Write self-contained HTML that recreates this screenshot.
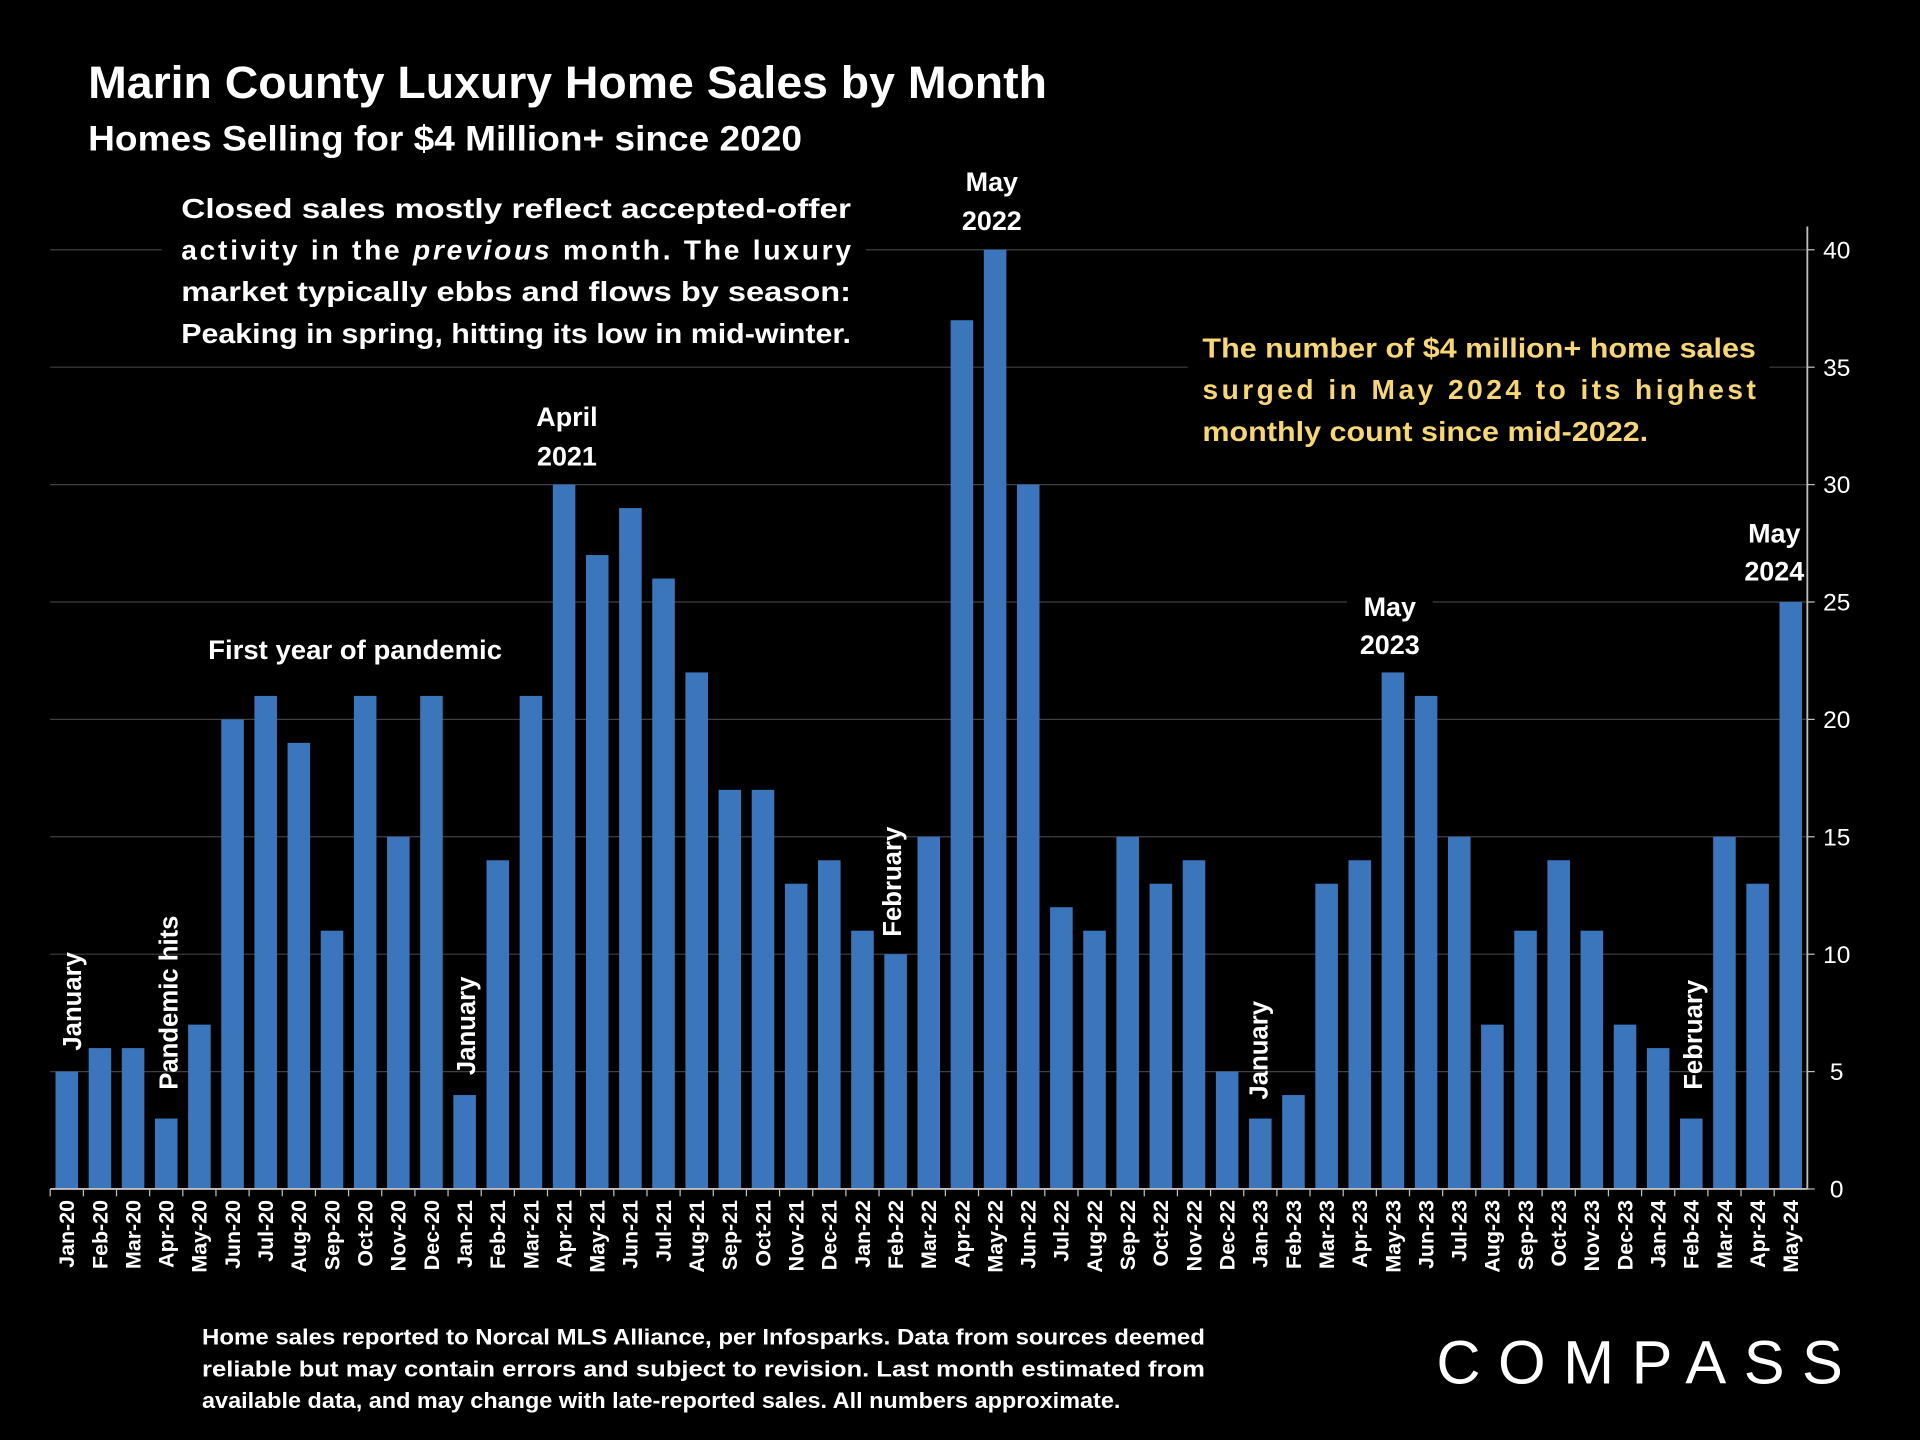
<!DOCTYPE html>
<html><head><meta charset="utf-8"><style>
html,body{margin:0;padding:0;background:#000;}
svg{display:block;}
text{font-family:"Liberation Sans",sans-serif;font-weight:bold;fill:#fff;}
</style></head><body>
<svg id="chart" width="1920" height="1440" viewBox="0 0 1568 1176" xmlns="http://www.w3.org/2000/svg">
<rect x="0" y="0" width="1568" height="1176" fill="#000"/>
<text x="72" y="80" font-size="37" textLength="783" lengthAdjust="spacingAndGlyphs">Marin County Luxury Home Sales by Month</text>
<text x="72" y="123" font-size="29" textLength="583" lengthAdjust="spacingAndGlyphs">Homes Selling for $4 Million+ since 2020</text>
<g id="grid"></g>
<g id="bars"></g>
<g id="xlabels"></g>
<g id="ylabels"></g>

<g>
<rect x="132" y="150" width="575" height="140" fill="#000"/>
<text x="148" y="178" font-size="23" textLength="547" lengthAdjust="spacingAndGlyphs">Closed sales mostly reflect accepted-offer</text>
<text x="148" y="212" font-size="23" textLength="547" lengthAdjust="spacing">activity in the <tspan font-style="italic">previous</tspan> month. The luxury</text>
<text x="148" y="246" font-size="23" textLength="547" lengthAdjust="spacingAndGlyphs">market typically ebbs and flows by season:</text>
<text x="148" y="280" font-size="23" textLength="547" lengthAdjust="spacingAndGlyphs">Peaking in spring, hitting its low in mid-winter.</text>
</g>
<g>
<rect x="970" y="262" width="475" height="110" fill="#000"/>
<text x="982" y="292" font-size="23" style="fill:#f7d675" textLength="452" lengthAdjust="spacingAndGlyphs">The number of $4 million+ home sales</text>
<text x="982" y="326" font-size="23" style="fill:#f7d675" textLength="452" lengthAdjust="spacing">surged in May 2024 to its highest</text>
<text x="982" y="360" font-size="23" style="fill:#f7d675" textLength="364" lengthAdjust="spacingAndGlyphs">monthly count since mid-2022.</text>
</g>
<line x1="41" y1="971" x2="1476" y2="971" stroke="#bfbfbf" stroke-width="1.5"/>
<line x1="1476" y1="185" x2="1476" y2="971" stroke="#bfbfbf" stroke-width="1.5"/>
<g font-size="22">
<rect x="165" y="514" width="252" height="34" fill="#000"/>
<text x="290" y="538" text-anchor="middle" textLength="240" lengthAdjust="spacingAndGlyphs">First year of pandemic</text>
<text x="463" y="348" text-anchor="middle">April</text>
<text x="463" y="380" text-anchor="middle">2021</text>
<rect x="775" y="135" width="70" height="62" fill="#000"/>
<text x="810" y="156" text-anchor="middle">May</text>
<text x="810" y="188" text-anchor="middle">2022</text>
<rect x="1100" y="480" width="70" height="62" fill="#000"/>
<text x="1135" y="503" text-anchor="middle">May</text>
<text x="1135" y="534" text-anchor="middle">2023</text>
<text x="1449" y="443" text-anchor="middle">May</text>
<text x="1449" y="474" text-anchor="middle">2024</text>
<text transform="translate(66,858) rotate(-90)" font-size="21">January</text>
<text transform="translate(145,890) rotate(-90)" font-size="21">Pandemic hits</text>
<text transform="translate(388,878) rotate(-90)" font-size="21">January</text>
<text transform="translate(736,765) rotate(-90)" font-size="21">February</text>
<text transform="translate(1035,898) rotate(-90)" font-size="21">January</text>
<text transform="translate(1390,890) rotate(-90)" font-size="21">February</text>
</g>
<g font-size="18">
<text x="165" y="1098" textLength="819" lengthAdjust="spacingAndGlyphs">Home sales reported to Norcal MLS Alliance, per Infosparks. Data from sources deemed</text>
<text x="165" y="1124" textLength="819" lengthAdjust="spacingAndGlyphs">reliable but may contain errors and subject to revision.  Last month estimated from</text>
<text x="165" y="1150" textLength="750" lengthAdjust="spacingAndGlyphs">available data, and may change with late-reported sales. All numbers approximate.</text>
</g>
<text x="1173" y="1130" font-size="50" style="font-weight:normal" textLength="332" lengthAdjust="spacing">COMPASS</text>
</svg>
<script>
const months = ["Jan-20","Feb-20","Mar-20","Apr-20","May-20","Jun-20","Jul-20","Aug-20","Sep-20","Oct-20","Nov-20","Dec-20",
"Jan-21","Feb-21","Mar-21","Apr-21","May-21","Jun-21","Jul-21","Aug-21","Sep-21","Oct-21","Nov-21","Dec-21",
"Jan-22","Feb-22","Mar-22","Apr-22","May-22","Jun-22","Jul-22","Aug-22","Sep-22","Oct-22","Nov-22","Dec-22",
"Jan-23","Feb-23","Mar-23","Apr-23","May-23","Jun-23","Jul-23","Aug-23","Sep-23","Oct-23","Nov-23","Dec-23",
"Jan-24","Feb-24","Mar-24","Apr-24","May-24"];
const sales = [5,6,6,3,7,20,21,19,11,21,15,21,
4,14,21,30,27,29,26,22,17,17,13,14,
11,10,15,37,40,30,12,11,15,13,14,5,
3,4,13,14,22,21,15,7,11,14,11,7,
6,3,15,13,25];
const yTicks = [0,5,10,15,20,25,30,35,40];
const NS="http://www.w3.org/2000/svg";
const X0=41,X1=1476,Y0=971,Y40=204;
const band=(X1-X0)/months.length;
function xPos(i){return X0+band*i;}
function yPos(v){return Y0-(Y0-Y40)*v/40;}
const grid=document.getElementById('grid'),bars=document.getElementById('bars'),
xl=document.getElementById('xlabels'),yl=document.getElementById('ylabels');
yTicks.forEach(t=>{
  if(t>0){const l=document.createElementNS(NS,'line');
  l.setAttribute('x1',X0);l.setAttribute('x2',X1);l.setAttribute('y1',yPos(t));l.setAttribute('y2',yPos(t));
  l.setAttribute('stroke','#404040');l.setAttribute('stroke-width','1');
  
  
  grid.appendChild(l);}
  const tk=document.createElementNS(NS,'line');
  tk.setAttribute('x1',X1);tk.setAttribute('x2',X1+6);tk.setAttribute('y1',yPos(t));tk.setAttribute('y2',yPos(t));
  tk.setAttribute('stroke','#bfbfbf');
  
  
  yl.appendChild(tk);
  const tx=document.createElementNS(NS,'text');
  tx.setAttribute('x',1500);tx.setAttribute('y',yPos(t)+7);tx.setAttribute('text-anchor','middle');
  tx.setAttribute('font-size','20');tx.style.fontWeight='normal';tx.textContent=t;
  
  
  yl.appendChild(tx);
});
months.forEach((m,i)=>{
  const bw=band*0.68;
  const r=document.createElementNS(NS,'rect');
  r.setAttribute('x',xPos(i)+(band-bw)/2);r.setAttribute('width',bw);
  r.setAttribute('y',yPos(sales[i]));r.setAttribute('height',Y0-yPos(sales[i]));
  r.setAttribute('fill','#3b76bd');
  
  
  bars.appendChild(r);
  const tk=document.createElementNS(NS,'line');
  tk.setAttribute('x1',xPos(i));tk.setAttribute('x2',xPos(i));tk.setAttribute('y1',Y0);tk.setAttribute('y2',Y0+6);
  tk.setAttribute('stroke','#bfbfbf');
  
  
  xl.appendChild(tk);
  const t=document.createElementNS(NS,'text');
  const cx=xPos(i)+band/2+6;
  t.setAttribute('transform','translate('+cx+',980) rotate(-90)');
  t.setAttribute('text-anchor','end');t.setAttribute('font-size','17.5');
  t.textContent=m;
  
  
  xl.appendChild(t);
});
</script>
</body></html>
